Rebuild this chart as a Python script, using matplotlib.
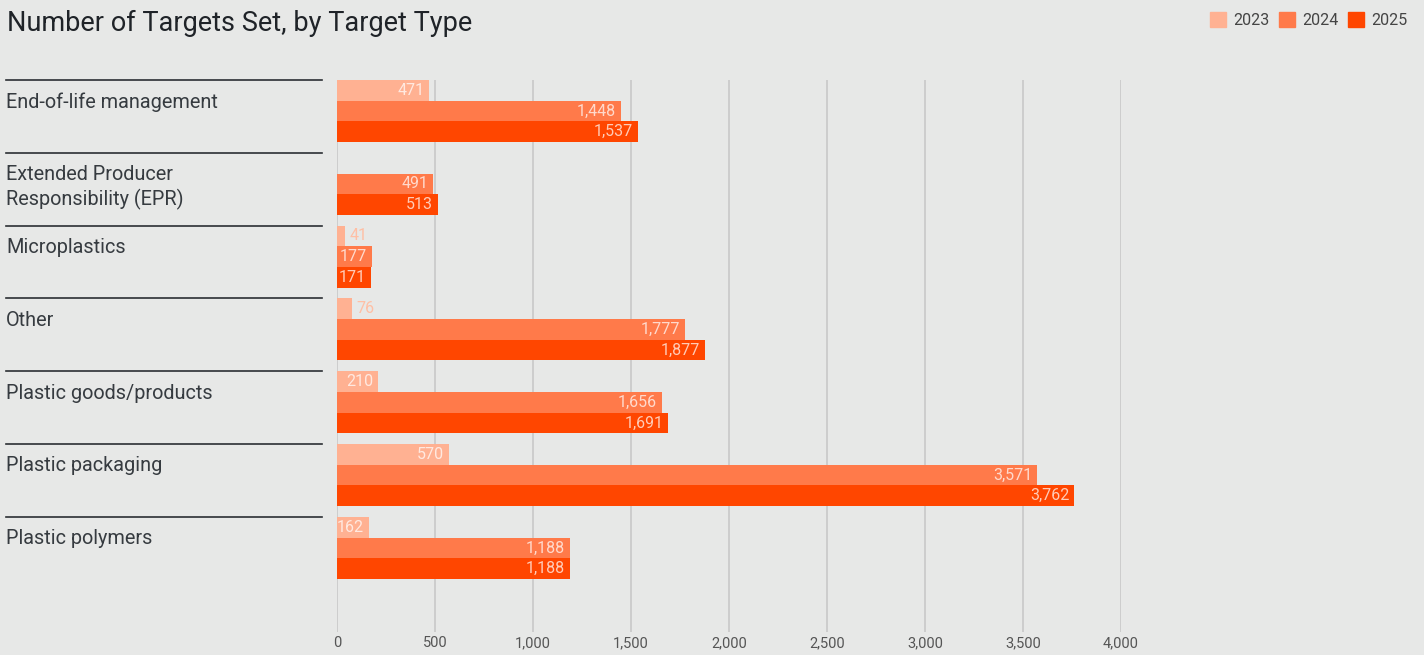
import matplotlib.pyplot as plt
import matplotlib.transforms as mtransforms
from matplotlib.patches import Patch
import numpy as np

categories = ['End-of-life management', 'Extended Producer\nResponsibility (EPR)', 'Microplastics',
              'Other', 'Plastic goods/products', 'Plastic packaging', 'Plastic polymers']
years = ['2023', '2024', '2025']
v2023 = [471, np.nan, 41, 76, 210, 570, 162]
v2024 = [1448, 491, 177, 1777, 1656, 3571, 1188]
v2025 = [1537, 513, 171, 1877, 1691, 3762, 1188]
colors = ['#ffb192', '#ff7a4a', '#ff4600']
xticks = [0, 500, 1000, 1500, 2000, 2500, 3000, 3500, 4000]

bg = '#e7e8e7'
plt.rcParams['font.family'] = ['Roboto', 'DejaVu Sans']

W, H = 1424, 655
fig = plt.figure(figsize=(W / 100, H / 100), dpi=100, facecolor=bg)
ax = fig.add_axes([337 / W, 1 - 632 / H, (1121 - 337) / W, (632 - 80) / H])
ax.set_facecolor(bg)

grp = 72.8
bh = 20.7 / grp
ax.set_xlim(0, 4000)
ax.set_ylim((632 - 80) / grp, 0)

for k, vals in enumerate([v2023, v2024, v2025]):
    for i, v in enumerate(vals):
        if np.isnan(v):
            continue
        yc = i + bh * (k + 0.5)
        ax.barh(yc, v, height=bh, color=colors[k], zorder=2)
        lab = f'{int(v):,}'
        if v < 150:
            ax.text(v + 25, yc, lab, ha='left', va='center', fontsize=11.5,
                    color='#ffbfa5', zorder=3)
        else:
            ax.text(v - 25, yc, lab, ha='right', va='center', fontsize=11.5,
                    color='white', alpha=0.72, zorder=3)

ax.set_xticks(xticks)
ax.set_xticklabels([f'{t:,}' for t in xticks], fontsize=10.5, color='#555555')
ax.tick_params(axis='x', length=0, pad=3)
ax.set_yticks([])
ax.grid(axis='x', color='#c6c6c6', lw=1.1, zorder=0)
for s in ax.spines.values():
    s.set_visible(False)

tr = mtransforms.blended_transform_factory(fig.transFigure, ax.transData)
for i, c in enumerate(categories):
    ax.plot([6 / W, 322 / W], [i, i], transform=tr, color='#2b2f33', lw=1.2, clip_on=False)
    ax.text(6 / W, i + 0.17, c, transform=tr, ha='left', va='top', fontsize=14.3,
            color='#363b40', linespacing=1.3)

fig.text(7 / W, 1 - 23 / H, 'Number of Targets Set, by Target Type', fontsize=19.5,
         color='#1f2328', va='center', ha='left')

handles = [Patch(color=c, label=y) for c, y in zip(colors, years)]
fig.legend(handles=handles, loc='upper right', bbox_to_anchor=(1 - 2 / W, 1 + 2 / H), ncol=3,
           frameon=False, fontsize=11.5, handlelength=1.0, handleheight=1.0,
           handletextpad=0.45, columnspacing=0.6, labelcolor='#444444')

fig.savefig('out.png', dpi=100, facecolor=bg)
